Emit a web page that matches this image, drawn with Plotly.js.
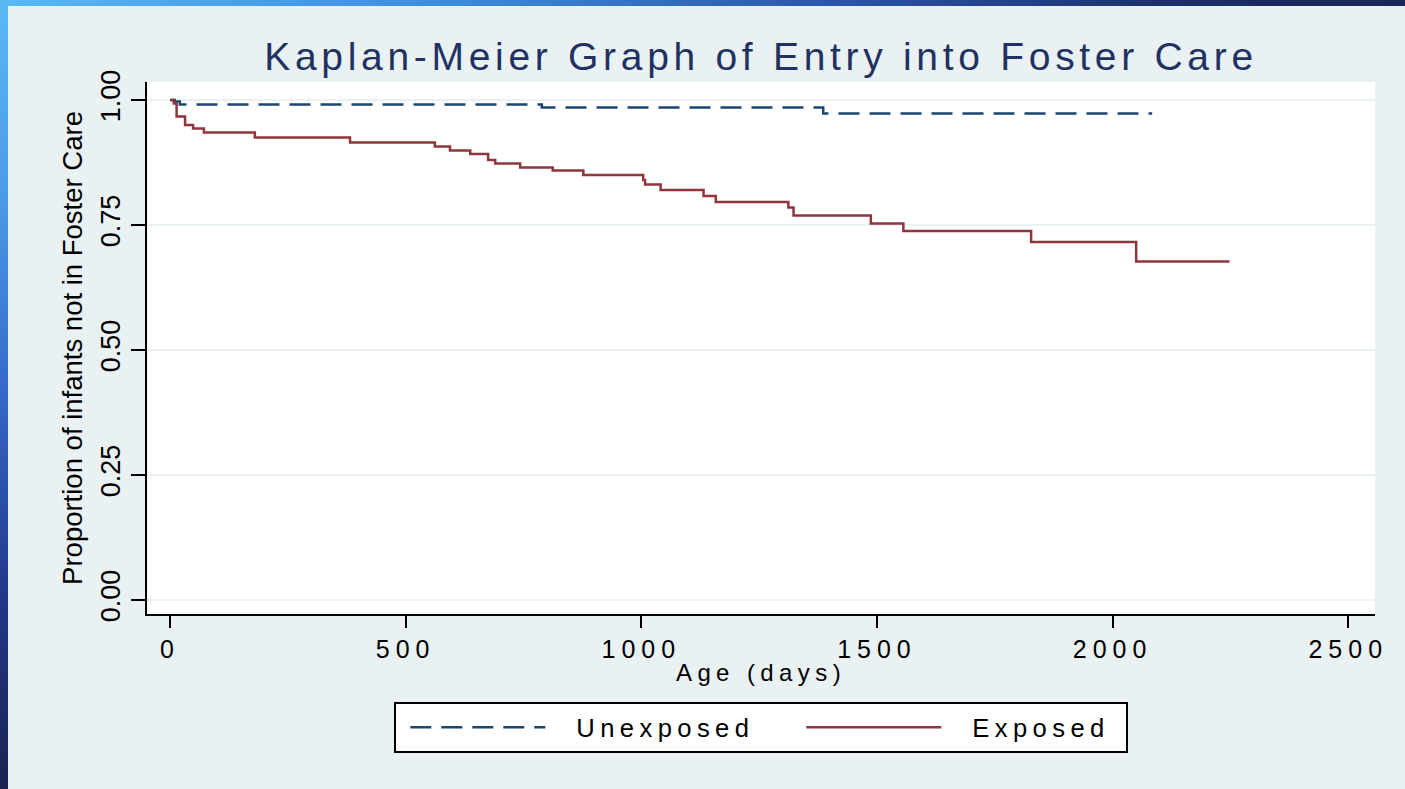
<!DOCTYPE html>
<html>
<head>
<meta charset="utf-8">
<script src="https://cdn.plot.ly/plotly-3.0.1.min.js"></script>
<style>
html,body{margin:0;padding:0;width:1405px;height:789px;overflow:hidden;background:#e9f1f3;}
#chart{position:absolute;left:0;top:0;width:1405px;height:789px;}
#frameTop{position:absolute;left:0;top:0;width:1405px;height:6px;z-index:5;
  background:linear-gradient(to right,#5bb8f4 0%,#3f8ee0 30%,#2a55a8 60%,#1b2d66 85%,#1a2758 100%);}
#frameLeft{position:absolute;left:0;top:0;width:8px;height:789px;z-index:6;
  background:linear-gradient(to bottom,#5bb8f4 0%,#4a9be8 25%,#3568c8 50%,#22388a 75%,#1a2350 100%);}
.gtitle{letter-spacing:4.7px;}
.xtick text{letter-spacing:6px;}
.xtitle{letter-spacing:5.4px;}
.legendtext{letter-spacing:5.4px;}
</style>
</head>
<body>
<div id="chart"></div>
<div id="frameTop"></div>
<div id="frameLeft"></div>
<script>
// Kaplan-Meier step data (day, survival proportion)
var unexposedDays = [0, 10, 21, 789, 1386, 2084];
var unexposedSurv = [1.000, 0.997, 0.991, 0.985, 0.973, 0.973];

var exposedDays = [0, 8, 14, 32, 49, 72, 180, 382, 562, 594, 637, 675, 690, 743, 812, 877, 1004, 1008, 1041, 1132, 1158, 1312, 1323, 1487, 1556, 1827, 2050, 2248];
var exposedSurv = [1.000, 0.993, 0.967, 0.950, 0.943, 0.935, 0.925, 0.915, 0.907, 0.899, 0.892, 0.880, 0.873, 0.865, 0.859, 0.850, 0.840, 0.831, 0.820, 0.808, 0.796, 0.785, 0.769, 0.753, 0.738, 0.716, 0.677, 0.677];

var xTickVals = [0, 500, 1000, 1500, 2000, 2500];
var yTickVals = [0, 0.25, 0.5, 0.75, 1];
var seriesNames = ['Unexposed', 'Exposed'];

var FONT = 'Liberation Sans, Arial, sans-serif';

var traces = [
  {x: unexposedDays, y: unexposedSurv, name: seriesNames[0], type: 'scatter', mode: 'lines',
   line: {shape: 'hv', color: '#1a476f', width: 2.5, dash: '21px,10px'}},
  {x: exposedDays, y: exposedSurv, name: seriesNames[1], type: 'scatter', mode: 'lines',
   line: {shape: 'hv', color: '#90353b', width: 2.5}}
];

var layout = {
  width: 1405, height: 789,
  paper_bgcolor: 'rgba(0,0,0,0)',
  plot_bgcolor: '#ffffff',
  margin: {l: 147, r: 30, t: 82, b: 175, pad: 0},
  font: {family: FONT, color: '#000000'},
  title: {text: 'Kaplan-Meier Graph of Entry into Foster Care', x: 0.5, xref: 'paper',
          y: 0.928, yref: 'container', yanchor: 'middle',
          font: {family: FONT, size: 39, color: '#1f3262'}},
  xaxis: {range: [-48.8, 2556.7], tickvals: xTickVals, ticks: 'outside', ticklen: 12, tickwidth: 2,
          tickcolor: '#000', showline: true, linecolor: '#000', linewidth: 2, showgrid: false,
          zeroline: false, tickfont: {size: 25, color: '#000'}, automargin: false,
          title: {text: 'Age (days)', font: {size: 24, color: '#000'}, standoff: 0}},
  yaxis: {range: [-0.028, 1.036], tickvals: yTickVals, tickformat: '.2f', ticks: 'outside', ticklen: 14,
          tickwidth: 2, tickcolor: '#000', showline: true, linecolor: '#000', linewidth: 2,
          showgrid: true, gridcolor: '#eaf2f3', gridwidth: 2, zeroline: false, tickangle: -90,
          tickfont: {size: 27, color: '#000'}, automargin: false,
          title: {text: 'Proportion of infants not in Foster Care', font: {size: 27.5, color: '#000'}, standoff: 6}},
  showlegend: true,
  legend: {orientation: 'h', x: 0.5, xanchor: 'center', y: -0.1654, yanchor: 'top',
           bgcolor: '#ffffff', bordercolor: '#000000', borderwidth: 2,
           font: {size: 25.6, color: '#000'}, itemwidth: 170, entrywidth: 211, traceorder: 'normal'}
};

function fixUp() {
  var gd = document.getElementById('chart');
  // nudge x-axis title up a little
  var xt = gd.querySelector('text.xtitle');
  if (xt && !xt.getAttribute('data-fixed')) {
    var yv = parseFloat(xt.getAttribute('y'));
    if (!isNaN(yv)) xt.setAttribute('y', yv - 4);
    xt.querySelectorAll('tspan[y]').forEach(function (t) {
      var v = parseFloat(t.getAttribute('y'));
      if (!isNaN(v)) t.setAttribute('y', v - 4);
    });
    xt.setAttribute('data-fixed', '1');
  }
  var leg = gd.querySelector('g.legend');
  if (!leg || leg.getAttribute('data-fixed')) return;
  leg.querySelectorAll('g.traces').forEach(function (tr) {
    var txt = tr.querySelector('text.legendtext');
    if (!txt) return;
    var tx = txt.getBBox().x;
    tr.querySelectorAll('g.legendlines path').forEach(function (p) {
      var rel = tr.getCTM().inverse().multiply(p.getCTM());
      var x0 = tx - 31 - 135 - rel.e;
      p.setAttribute('d', 'M' + x0 + ',0h135');
    });
  });
  // trim trailing empty space of last entry and re-center box
  var bg = leg.querySelector('rect.bg');
  var texts = leg.querySelectorAll('text.legendtext');
  if (bg && texts.length) {
    var last = texts[texts.length - 1];
    var bb = last.getBBox();
    var m = leg.getCTM().inverse().multiply(last.getCTM());
    var right = m.e + bb.x + bb.width;
    var bx = +(bg.getAttribute('x') || 0);
    var oldW = +bg.getAttribute('width');
    var newW = right + 17 - bx;
    if (newW < oldW) {
      bg.setAttribute('width', newW);
      var tf = leg.getAttribute('transform') || '';
      var mt = /translate\(\s*([-\d.e]+)[ ,]+([-\d.e]+)\s*\)/.exec(tf);
      if (mt) {
        var nx = parseFloat(mt[1]) + (oldW - newW) / 2;
        leg.setAttribute('transform', 'translate(' + nx + ',' + mt[2] + ')');
      }
    }
  }
  leg.setAttribute('data-fixed', '1');
}

Plotly.newPlot('chart', traces, layout, {displayModeBar: false, staticPlot: true}).then(function (gd) {
  fixUp();
  gd.on('plotly_afterplot', fixUp);
});
</script>
</body>
</html>
